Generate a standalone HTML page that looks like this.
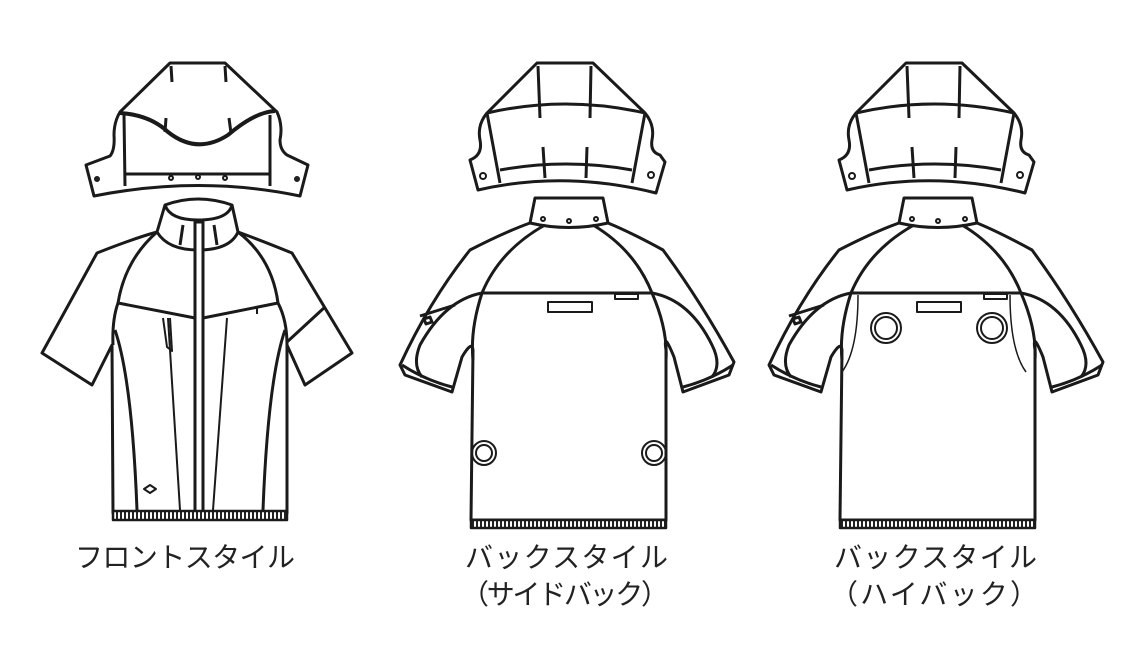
<!DOCTYPE html>
<html><head><meta charset="utf-8"><style>
html,body{margin:0;padding:0;background:#fff;width:1144px;height:670px;overflow:hidden}
svg{position:absolute;left:0;top:0}
text{font-family:"Liberation Sans","Noto Sans CJK JP",sans-serif;font-size:28px;fill:#222}
</style></head><body>
<svg width="1144" height="670" viewBox="0 0 1144 670">
<defs>
<pattern id="rib" width="4" height="10" patternUnits="userSpaceOnUse"><rect width="4" height="10" fill="#fff"/><rect width="2" height="10" fill="#222"/></pattern>
<g id="backhood" fill="none" stroke="#1a1a1a" stroke-width="3" stroke-linejoin="round">
<path d="M537,63 L593,63 L645,113 Q655,125 652,140 Q650,152 660,155 L665,162 L656,193 Q565,170 478,190 L470,160 Q483,155 480,140 Q477,125 487,113 Z" fill="#fff"/>
<path d="M487,113 Q565,95 645,113"/>
<path d="M487,113 L500,183 M645,113 L632,183"/>
<path d="M500,170 Q566,158 632,170"/>
<path d="M538,66 L540,118 M591,66 L590,118 M543,147 L545,178 M587,147 L586,178"/>
<circle cx="483" cy="176" r="3" stroke-width="2"/><circle cx="651" cy="175" r="3" stroke-width="2"/>
</g>
<g id="backbody" fill="none" stroke="#1a1a1a" stroke-width="3" stroke-linejoin="round">
<path d="M535,198 L603,198 L608,223 Q630,232 663,250 Q700,300 734,362 L729,375 L683,392 L674,357 Q663,330 666,350 L666,520 L471,520 L473,350 Q472,340 462,357 L452,392 L405,375 L400,365 Q430,300 470,250 Q505,232 530,223 Z" fill="#fff"/>
<path d="M530,223 Q569,232 608,223"/>
<path d="M545,225 Q500,250 482,293 L652,293 Q635,250 593,225"/>
<path d="M482,293 Q470,330 473,360 M652,293 Q668,330 666,360"/>
<path d="M482,293 Q445,300 420,345 Q412,365 422,377 M652,293 Q690,300 712,345 Q722,365 712,377"/>
<path d="M402,365 Q425,380 452,387 M733,365 Q710,380 683,387"/>
<path d="M420,316 L455,305 M424,319 l6,-2 l2,5 l-6,2 z"/>
<rect x="548" y="302" width="44" height="10" stroke-width="2"/>
<rect x="615" y="294" width="23" height="5" stroke-width="2"/>
<rect x="471" y="520" width="195" height="8" fill="url(#rib)" stroke-width="2.5"/>
<circle cx="543" cy="219" r="2" stroke-width="2"/><circle cx="569" cy="221" r="2" stroke-width="2"/><circle cx="596" cy="219" r="2" stroke-width="2"/>
</g>
</defs>

<g fill="none" stroke="#1a1a1a" stroke-width="3" stroke-linejoin="round">
<path d="M170,63 L225,63 L277,112 Q283,125 280,140 Q280,150 287,155 L308,165 L300,196 Q200,175 94,196 L86,165 L110,156 Q115,150 114,135 Q114,122 120,112 Z" fill="#fff"/>
<path d="M120,113 Q150,115 168,132 Q197,155 228,135 Q255,112 275,111" stroke-width="4"/>
<path d="M171,66 L172,82 M225,66 L226,82 M166,118 L165,132 M229,118 L231,133"/>
<path d="M124,115 L125,186 M270,115 L270,186 M125,174 L270,174"/>
<circle cx="171" cy="178" r="2" stroke-width="2"/><circle cx="198" cy="177" r="2" stroke-width="2"/><circle cx="225" cy="178" r="2" stroke-width="2"/>
<circle cx="97" cy="179" r="2.5" fill="#222" stroke-width="1"/><circle cx="297" cy="179" r="2.5" fill="#222" stroke-width="1"/>
<path d="M165,205 Q198,193 232,205 L238,232 Q260,240 292,253 L352,353 L305,385 L287,345 L287,513 L113,513 L112,345 L92,385 L42,353 L97,253 Q135,238 157,232 Z" fill="#fff"/>
<path d="M165,205 Q170,220 198,220 Q228,220 232,205 M157,232 Q168,250 198,250 Q230,250 238,232"/>
<path d="M183,225 L180,245 M214,225 L217,245"/>
<rect x="195" y="222" width="8" height="293" fill="#fff"/>
<path d="M157,232 Q125,260 118,303 L195,318 M203,318 L278,303 Q272,258 238,232"/>
<path d="M118,303 Q112,320 113,345 M278,303 Q287,320 287,345"/>
<path d="M325,307 L287,342"/>
<path d="M115,330 Q132,380 137,510 M285,330 Q268,380 263,510"/>
<path d="M168,318 L180,510 M227,318 L213,510" stroke-width="2"/>
<path d="M163,318 L167,347 L172,351 L170,318" stroke-width="2"/>
<path d="M257,308 L257,314" stroke-width="2"/>
<path d="M144,489 l6,-4 l6,4 l-6,4 z" stroke-width="2"/>
<rect x="113" y="511" width="174" height="9" fill="url(#rib)" stroke-width="2.5"/>
</g>

<use href="#backhood"/><use href="#backbody"/>
<g stroke="#1a1a1a" fill="none" stroke-width="2">
<circle cx="484" cy="453" r="12"/><circle cx="484" cy="453" r="8"/>
<circle cx="654" cy="453" r="12"/><circle cx="654" cy="453" r="8"/>
</g>

<g transform="translate(369,0)"><use href="#backhood"/><use href="#backbody"/></g>
<g stroke="#1a1a1a" fill="none" stroke-width="2">
<circle cx="886" cy="328" r="15"/><circle cx="886" cy="328" r="11"/>
<circle cx="992" cy="328" r="15"/><circle cx="992" cy="328" r="11"/>
<path d="M858,295 Q858,350 842,372 M1010,295 Q1010,350 1026,372" stroke-width="1.5"/>
</g>

<text x="75" y="567" textLength="220">フロントスタイル</text>
<text x="465" y="567" textLength="203">バックスタイル</text>
<text x="461" y="604" textLength="208">（サイドバック）</text>
<text x="834" y="567" textLength="203">バックスタイル</text>
<text x="830" y="604" textLength="208">（ハイバック）</text>
</svg>
</body></html>
